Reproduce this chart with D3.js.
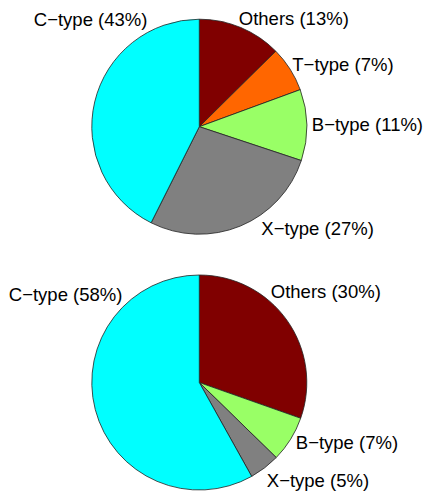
<!DOCTYPE html>
<html>
<head>
<meta charset="utf-8">
<script src="https://cdn.jsdelivr.net/npm/d3@7"></script>
<style>
  html, body { margin: 0; padding: 0; background: #fff; }
  svg text { font-family: "Liberation Sans", Arial, Helvetica, sans-serif; font-size: 18.5px; fill: #000; }
</style>
</head>
<body>
<div id="chart"></div>
<script>
// Pie data, slices in clockwise order from 12 o'clock
const categoriesTop = ["Others", "T\u2212type", "B\u2212type", "X\u2212type", "C\u2212type"];
const valuesTop = [12.6, 6.8, 10.7, 27.3, 42.6];

const categoriesBottom = ["Others", "B\u2212type", "X\u2212type", "C\u2212type"];
const valuesBottom = [30.4, 6.9, 4.6, 58.1];

// slice colours by category
const colorMap = {
    "Others": "#800000",
    "T\u2212type": "#ff6600",
    "B\u2212type": "#99ff66",
    "X\u2212type": "#808080",
    "C\u2212type": "#00ffff"
};

// label placement (offset of text start / baseline from the pie centre)
const labelOffsetsTop = [[39.5, -101.7], [93, -56], [112.5, 4], [62, 108.3], [-165.5, -101]];
const labelOffsetsBottom = [[71.5, -84.8], [96.5, 66.8], [67.5, 104.2], [-190.5, -81.5]];

const width = 436, height = 501;
const radius = 107.5;

const svg = d3.select('#chart')
    .append('svg')
    .attr('width', width)
    .attr('height', height);

function drawPie(cx, cy, categories, values, offsets) {
    const g = svg.append('g')
        .attr('transform', `translate(${cx},${cy})`);

    const total = d3.sum(values);
    const pie = d3.pie()
        .sort(null)
        .value(d => d.value);

    const arc = d3.arc()
        .innerRadius(0)
        .outerRadius(radius);

    const slices = pie(categories.map((c, i) => ({name: c, value: values[i]})));

    g.selectAll('path')
        .data(slices)
        .enter()
        .append('path')
        .attr('d', arc)
        .style('fill', d => colorMap[d.data.name])
        .style('stroke', '#222')
        .style('stroke-width', 0.8)
        .style('stroke-linejoin', 'round');

    g.selectAll('text')
        .data(slices)
        .enter()
        .append('text')
        .attr('x', (d, i) => offsets[i][0])
        .attr('y', (d, i) => offsets[i][1])
        .text(d => `${d.data.name} (${Math.round(d.data.value / total * 100)}%)`);
}

drawPie(199.3, 126.7, categoriesTop, valuesTop, labelOffsetsTop);
drawPie(199.3, 382.5, categoriesBottom, valuesBottom, labelOffsetsBottom);
</script>
</body>
</html>
